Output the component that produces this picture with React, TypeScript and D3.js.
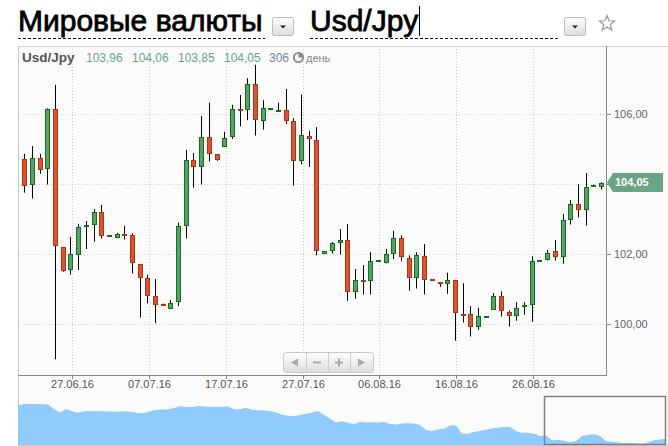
import React from "react";
import * as d3 from "d3";

const headerTitle = "Мировые валюты";
const pairName = "Usd/Jpy";
const legendVolume = "306";
const legendPeriod = "день";

const candleOpen = [104.72, 104.0, 104.74, 104.46, 106.14, 102.2, 101.57, 102.0, 102.8, 102.86, 103.2, 102.52, 102.49, 102.57, 102.54, 101.71, 101.31, 100.8, 100.59, 100.46, 100.66, 102.83, 104.69, 104.51, 105.34, 104.86, 105.1, 105.37, 106.15, 106.14, 106.87, 105.83, 106.14, 106.09, 106.11, 105.8, 104.69, 105.39, 105.26, 102.05, 102.11, 102.34, 102.4, 100.94, 101.26, 101.26, 101.8, 101.77, 102.03, 102.46, 101.89, 101.34, 101.94, 101.28, 101.2, 101.17, 101.26, 100.3, 100.29, 99.94, 100.21, 100.44, 100.8, 100.34, 100.27, 100.52, 100.59, 101.82, 101.86, 102.09, 101.96, 103.0, 103.44, 103.29, 103.95, 103.96];
const candleHigh = [104.87, 105.09, 104.87, 106.17, 106.84, 102.2, 102.5, 102.87, 102.95, 103.29, 103.41, 102.55, 102.61, 102.81, 102.6, 101.71, 101.41, 101.29, 100.59, 100.69, 102.9, 104.98, 104.89, 105.95, 106.33, 104.86, 105.5, 106.27, 106.55, 107.03, 107.41, 106.4, 106.17, 106.33, 106.72, 105.89, 106.56, 105.53, 105.63, 102.08, 102.35, 102.72, 102.86, 101.58, 101.69, 102.06, 101.83, 102.15, 102.67, 102.54, 101.97, 102.06, 102.29, 101.28, 101.2, 101.47, 101.27, 101.17, 100.52, 100.47, 100.23, 100.89, 100.94, 100.39, 100.63, 100.63, 101.94, 101.84, 102.12, 102.41, 103.15, 103.55, 104.0, 104.32, 103.99, 104.06];
const candleLow = [103.76, 103.59, 104.3, 103.99, 99.0, 101.5, 101.42, 101.55, 102.15, 102.36, 102.45, 102.51, 102.46, 102.42, 101.45, 100.19, 100.6, 100.03, 100.54, 100.43, 100.52, 102.45, 103.9, 103.99, 104.65, 104.67, 105.07, 105.29, 105.65, 105.83, 105.39, 105.56, 106.11, 106.09, 105.72, 103.96, 104.57, 104.49, 101.97, 102.03, 102.02, 101.99, 100.67, 100.73, 100.85, 100.85, 101.8, 101.74, 101.86, 101.8, 100.96, 101.02, 100.85, 101.26, 101.07, 100.87, 99.53, 100.05, 99.65, 99.84, 100.21, 100.41, 100.22, 99.93, 100.1, 100.27, 100.07, 101.82, 101.82, 101.82, 101.73, 102.85, 103.05, 102.82, 103.95, 103.85];
const candleClose = [103.97, 104.74, 104.43, 106.14, 102.26, 101.54, 102.01, 102.77, 102.84, 103.2, 102.54, 102.54, 102.57, 102.55, 101.77, 101.34, 100.83, 100.57, 100.57, 100.6, 102.81, 104.69, 104.53, 105.34, 104.89, 104.71, 105.31, 106.14, 106.11, 106.87, 105.86, 106.17, 106.17, 106.11, 105.83, 104.69, 105.4, 105.31, 102.11, 102.08, 102.31, 102.4, 100.94, 101.26, 101.23, 101.8, 101.83, 102.0, 102.46, 101.94, 101.34, 101.97, 101.29, 101.26, 101.18, 101.26, 100.34, 100.28, 99.94, 100.24, 100.23, 100.8, 100.4, 100.27, 100.47, 100.54, 101.8, 101.84, 102.03, 101.96, 102.97, 103.44, 103.29, 103.91, 103.98, 104.05];

const dateTickLabels = ["27.06.16", "07.07.16", "17.07.16", "27.07.16", "06.08.16", "16.08.16", "26.08.16"];
const dateTickIndex = [6, 16, 26, 36, 46, 56, 66];
const priceTicks = [100, 102, 104, 106];

const navPrices = [121.12, 121.96, 122.08, 121.96, 121.79, 121.68, 119.15, 117.18, 119.15, 117.86, 117.07, 117.91, 118.03, 117.86, 117.86, 117.74, 117.63, 117.74, 117.86, 117.46, 116.9, 116.9, 117.86, 118.7, 118.87, 118.87, 119.71, 120.67, 120.28, 120.28, 120.84, 120.56, 120.44, 120.44, 120.44, 120.56, 118.98, 118.98, 119.83, 118.7, 118.48, 118.31, 118.03, 117.18, 115.89, 115.33, 115.1, 115.78, 116.45, 117.18, 118.03, 115.78, 113.81, 111.56, 112.23, 111.39, 110.54, 111.95, 111.5, 111.67, 111.5, 112.01, 110.71, 110.43, 110.94, 111.16, 110.99, 110.15, 107.34, 106.78, 107.56, 108.01, 109.87, 109.81, 105.26, 105.2, 106.21, 106.78, 107.45, 108.13, 108.63, 109.03, 109.03, 106.78, 105.82, 105.76, 105.26, 103.96, 104.24, 101.54, 101.83, 101.26, 100.42, 101.15, 103.96, 104.69, 104.92, 103.96, 100.98, 100.7, 100.36, 100.03, 100.14, 99.91, 99.58, 100.31, 101.54, 101.99, 102.44];

const FONT = "'Liberation Sans', Arial, sans-serif";
const fmt = (v: number) => d3.format(".2f")(v).replace(".", ",");

export default function App() {
  const W = 668, H = 446;
  const L = 18, R = 606, T = 46, B = 375;
  const x = d3.scaleLinear().domain([-0.82, 75.65]).range([L, R]);
  const y = d3.scaleLinear().domain([98.55, 107.95]).range([B, T]);
  const navX = d3.scaleLinear().domain([0, navPrices.length - 1]).range([18, 666]);
  const navY = d3.scaleLinear().domain([98.9, 125.9]).range([445, 397]);
  const navArea = d3.area<number>().x((_, i) => navX(i)).y0(445).y1((d) => navY(d));
  const last = candleClose.length - 1;
  const lastY = y(candleClose[last]);
  const tickShift = 0.18;

  const upFill = "#5c9f6e", upStroke = "#137013", dnFill = "#dc5234", dnStroke = "#a8390f";

  return (
    <svg width={W} height={H} style={{ position: "absolute", left: 0, top: 0, fontFamily: FONT }}>
      <defs>
        <linearGradient id="btn" x1="0" y1="0" x2="0" y2="1">
          <stop offset="0" stopColor="#ffffff" />
          <stop offset="1" stopColor="#dcdcdc" />
        </linearGradient>
      </defs>
      <rect width={W} height={H} fill="#ffffff" />
      <rect x={L} y={T} width={W - L} height={H - T} fill="#fbfbfb" />

      {/* header */}
      <text x={18} y={31} fontSize={30} fill="#000" stroke="#000" strokeWidth={0.8}>{headerTitle}</text>
      <line x1={18} x2={265} y1={38.5} y2={38.5} stroke="#000" strokeDasharray="3,2" />
      <rect x={272.5} y={17.5} width={21} height={18} rx={2} fill="url(#btn)" stroke="#bbb" />
      <path d="M280,25.5 L286,25.5 L283,28.5 Z" fill="#222" />
      <text x={310} y={31} fontSize={30} fill="#000" stroke="#000" strokeWidth={0.8}>{pairName}</text>
      <line x1={419.5} x2={419.5} y1={6} y2={36} stroke="#000" />
      <line x1={310} x2={560} y1={38.5} y2={38.5} stroke="#000" strokeDasharray="3,2" />
      <rect x={564.5} y={17.5} width={21} height={18} rx={2} fill="url(#btn)" stroke="#bbb" />
      <path d="M572,25.5 L578,25.5 L575,28.5 Z" fill="#222" />
      <path
        d={d3.range(10).map((k) => {
          const r = k % 2 === 0 ? 8 : 3.4;
          const a = -Math.PI / 2 + (k * Math.PI) / 5;
          return `${k === 0 ? "M" : "L"}${607 + r * Math.cos(a)},${23.5 + r * Math.sin(a)}`;
        }).join("") + "Z"}
        fill="none" stroke="#9a9a9a" strokeWidth={1.2}
      />

      {/* grid */}
      {priceTicks.map((v) => (
        <line key={"hg" + v} x1={L} x2={R} y1={Math.round(y(v)) + 0.5} y2={Math.round(y(v)) + 0.5} stroke="#cfcfcf" strokeDasharray="1,2" />
      ))}
      {dateTickIndex.map((d) => {
        const gx = Math.round(x(d + tickShift)) + 0.5;
        return <line key={"vg" + d} x1={gx} x2={gx} y1={T} y2={B} stroke="#cfcfcf" strokeDasharray="1,2" />;
      })}

      {/* borders */}
      <line x1={L} x2={W} y1={T + 0.5} y2={T + 0.5} stroke="#d6d6d6" />
      <line x1={L + 0.5} x2={L + 0.5} y1={T} y2={446} stroke="#c8c8c8" />

      {/* legend */}
      <text x={22} y={62} fontSize={13.5} fontWeight="bold" fill="#555">{pairName}</text>
      {[candleOpen[last], candleHigh[last], candleLow[last], candleClose[last]].map((v, k) => (
        <text key={"lg" + k} x={86 + k * 46} y={62} fontSize={12} fill="#6aa583">{fmt(v)}</text>
      ))}
      <text x={269} y={62} fontSize={12} fill="#6b87a6">{legendVolume}</text>
      <circle cx={298.5} cy={57.5} r={4.6} fill="none" stroke="#888" strokeWidth={1.8} />
      <path d="M298.5,57.5 L298.5,53.5 A4,4 0 0 1 302.5,57.5 Z" fill="#888" />
      <text x={306} y={62} fontSize={11} fill="#888">{legendPeriod}</text>

      {/* candles */}
      {candleOpen.map((o, i) => {
        const c = candleClose[i];
        const up = c >= o;
        const cx = Math.round(x(i));
        const top = Math.round(y(Math.max(o, c)));
        const bot = Math.round(y(Math.min(o, c)));
        const h = Math.max(1, bot - top);
        return (
          <g key={"c" + i}>
            <line x1={cx + 0.5} x2={cx + 0.5} y1={y(candleHigh[i])} y2={y(candleLow[i])} stroke="#000" />
            <rect x={cx - 1.5} y={top + 0.5} width={4} height={h} fill={up ? upFill : dnFill} stroke={up ? upStroke : dnStroke} />
          </g>
        );
      })}

      {/* axes */}
      <line x1={L} x2={R + 1} y1={B + 0.5} y2={B + 0.5} stroke="#888" />
      <line x1={R + 0.5} x2={R + 0.5} y1={T} y2={B + 1} stroke="#888" />
      {priceTicks.map((v) => (
        <g key={"yt" + v}>
          <line x1={R} x2={R + 5} y1={Math.round(y(v)) + 0.5} y2={Math.round(y(v)) + 0.5} stroke="#888" />
          {Math.abs(y(v) - lastY) > 12 && (
            <text x={614} y={y(v)} dy="0.35em" fontSize={11} fill="#666">{fmt(v)}</text>
          )}
        </g>
      ))}
      {dateTickIndex.map((d, k) => {
        const gx = Math.round(x(d + tickShift)) + 0.5;
        return (
          <g key={"xt" + d}>
            <line x1={gx} x2={gx} y1={B} y2={B + 4} stroke="#888" />
            <text x={gx} y={388} fontSize={11} fill="#555" textAnchor="middle">{dateTickLabels[k]}</text>
          </g>
        );
      })}

      {/* last price label */}
      <path d={`M607,${lastY} L613,${lastY - 9.5} L663,${lastY - 9.5} L663,${lastY + 9.5} L613,${lastY + 9.5} Z`} fill="#6aa583" />
      <text x={615} y={lastY} dy="0.35em" fontSize={11} fontWeight="bold" fill="#fff">{fmt(candleClose[last])}</text>

      {/* zoom buttons */}
      <rect x={283.5} y={352.5} width={90} height={20} rx={3} fill="url(#btn)" stroke="#c8c8c8" />
      {[306, 328, 350].map((sx) => (
        <line key={"bs" + sx} x1={sx + 0.5} x2={sx + 0.5} y1={353} y2={372} stroke="#cfcfcf" />
      ))}
      <path d="M291,362.5 L298,358.5 L298,366.5 Z" fill="#aaa" />
      <rect x={313} y={361.5} width={8} height={2} fill="#aaa" />
      <rect x={335} y={361.5} width={8} height={2} fill="#aaa" />
      <rect x={338} y={358.5} width={2} height={8} fill="#aaa" />
      <path d="M365,362.5 L358,358.5 L358,366.5 Z" fill="#aaa" />

      {/* navigator */}
      <path d={navArea(navPrices) || ""} fill="#8fcbff" />
      <line x1={L} x2={668} y1={445.5} y2={445.5} stroke="#cfcfcf" />
      <rect x={544.5} y={396.5} width={121} height={48} fill="none" stroke="#808080" strokeWidth={1.5} />
    </svg>
  );
}
